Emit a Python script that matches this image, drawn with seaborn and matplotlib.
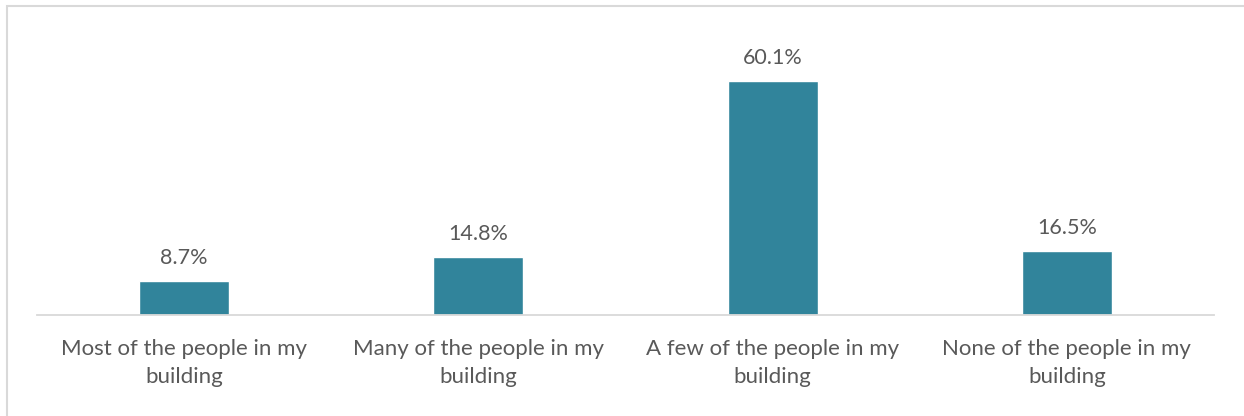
import matplotlib
matplotlib.use("Agg")
import matplotlib.pyplot as plt
import seaborn as sns
import pandas as pd
from matplotlib.patches import Rectangle

categories = [
    "Most of the people in my\nbuilding",
    "Many of the people in my\nbuilding",
    "A few of the people in my\nbuilding",
    "None of the people in my\nbuilding",
]
shares = [8.7, 14.8, 60.1, 16.5]
value_labels = ["8.7%", "14.8%", "60.1%", "16.5%"]

BAR_COLOR = "#31849B"
TEXT_COLOR = "#595959"

sns.set_theme(style="white")
plt.rcParams["font.family"] = ["Lato", "DejaVu Sans"]

df = pd.DataFrame({"category": categories, "share": shares})

fig = plt.figure(figsize=(12.44, 4.16), dpi=100)
ax = fig.add_axes([0.0297, 0.2428, 0.9462, 0.655])

sns.barplot(data=df, x="category", y="share", color=BAR_COLOR,
            width=0.306, saturation=1, ax=ax)

ax.set_ylim(0, 70)
ax.set_xlim(-0.5, 3.5)
ax.set_xlabel("")
ax.set_ylabel("")
ax.set_yticks([])
for side in ["top", "left", "right"]:
    ax.spines[side].set_visible(False)
ax.spines["bottom"].set_color("#D9D9D9")
ax.spines["bottom"].set_linewidth(1.3)
ax.tick_params(axis="x", length=0, pad=17.5, labelsize=16, colors=TEXT_COLOR)
for lbl in ax.get_xticklabels():
    lbl.set_linespacing(1.5)

for i, (v, t) in enumerate(zip(shares, value_labels)):
    ax.annotate(t, (i, v), xytext=(0, 9.5), textcoords="offset points",
                ha="center", va="bottom", fontsize=15.5, color=TEXT_COLOR)

# light frame around the chart area, running past the right and bottom edges
fig.patches.append(Rectangle((7 / 1244, -0.05), 1.1, 1.05 - 6 / 416,
                             transform=fig.transFigure, fill=False,
                             edgecolor="#D9D9D9", linewidth=1.5))

fig.savefig("out.png", dpi=100, facecolor="white")
